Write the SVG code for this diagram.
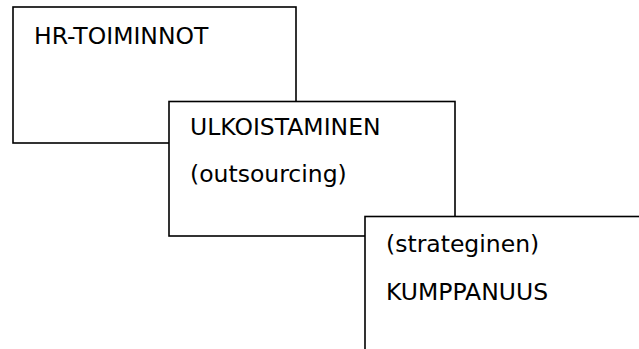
<svg xmlns="http://www.w3.org/2000/svg" width="639" height="349" viewBox="0 0 639 349">
<style>
.box{fill:#fff;stroke:#000;stroke-width:1.6}
.t{font-family:"DejaVu Sans",sans-serif;font-size:23.5px;fill:#000}
</style>
<rect width="639" height="349" fill="#fff"/>
<g id="node-hr">
<rect class="box" x="13" y="7" width="283" height="136"/>
<text class="t" x="34" y="44">HR-TOIMINNOT</text>
</g>
<g id="node-ulkoistaminen">
<rect class="box" x="169" y="101.5" width="286" height="134.5"/>
<text class="t" x="190" y="135">ULKOISTAMINEN</text>
<text class="t" x="190" y="182">(outsourcing)</text>
</g>
<g id="node-kumppanuus">
<rect class="box" x="365" y="216.5" width="300" height="160"/>
<text class="t" x="386" y="252">(strateginen)</text>
<text class="t" x="386" y="299.5">KUMPPANUUS</text>
</g>
<g id="connectors"></g>
</svg>
